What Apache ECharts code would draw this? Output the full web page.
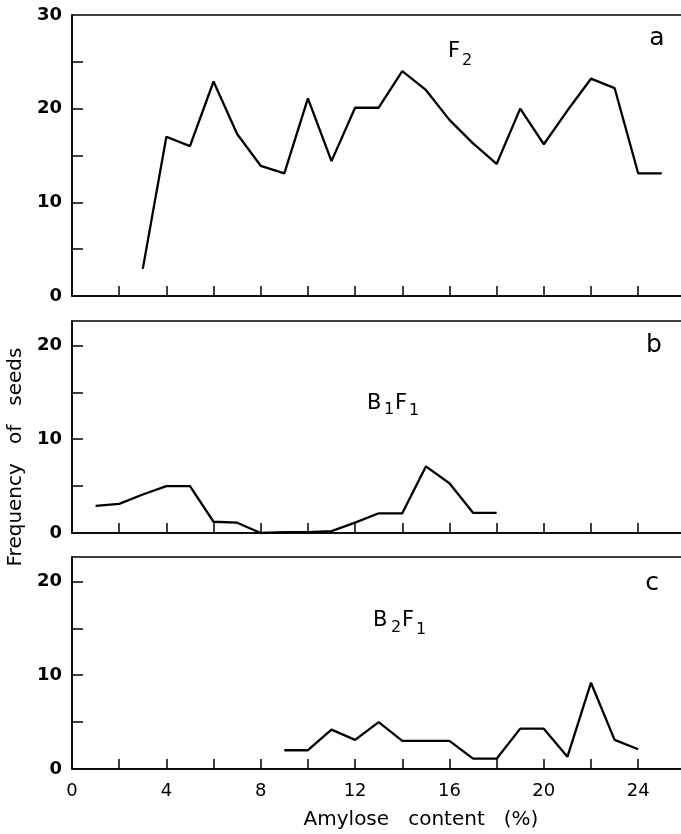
<!DOCTYPE html>
<html>
<head>
<meta charset="utf-8">
<script src="https://cdn.jsdelivr.net/npm/echarts@6/dist/echarts.min.js"></script>
<style>
  html, body { margin: 0; padding: 0; background: #fff; }
  #chart { width: 681px; height: 834px; }
</style>
</head>
<body>
<div id="chart"></div>
<script>
// amylose content (%) on x, frequency of seeds on y
var xF2 = [3, 4, 5, 6, 7, 8, 9, 10, 11, 12, 13, 14, 15, 16, 17, 18, 19, 20, 21, 22, 23, 24, 25];
var yF2 = [2.9, 17, 16, 22.9, 17.3, 13.9, 13.1, 21.1, 14.4, 20.1, 20.1, 24, 22, 18.8, 16.3, 14.1, 20, 16.2, 19.8, 23.2, 22.2, 13.1, 13.1];

var xB1F1 = [1, 2, 3, 4, 5, 6, 7, 8, 9, 10, 11, 12, 13, 14, 15, 16, 17, 18];
var yB1F1 = [2.9, 3.1, 4.1, 5, 5, 1.2, 1.1, 0, 0.1, 0.1, 0.2, 1.1, 2.1, 2.1, 7.1, 5.3, 2.15, 2.15];

var xB2F1 = [9, 10, 11, 12, 13, 14, 15, 16, 17, 18, 19, 20, 21, 22, 23, 24];
var yB2F1 = [2, 2, 4.2, 3.1, 5, 3, 3, 3, 1.1, 1.1, 4.3, 4.3, 1.3, 9.2, 3.1, 2.1];

var xTicks = [2, 4, 6, 8, 10, 12, 14, 16, 18, 20, 22, 24];
var xLabels = [0, 4, 8, 12, 16, 20, 24];
var yTicksA = [5, 10, 15, 20, 25];
var yLabelsA = [0, 10, 20, 30];
var yTicksBC = [5, 10, 15, 20];
var yLabelsBC = [0, 10, 20];

function pairs(xs, ys) {
  return xs.map(function (x, i) { return [x, ys[i]]; });
}

var font = 'DejaVu Sans';
var frame = { color: '#000', width: 1.5 };

var grids = [
  { top: 15, height: 281 },
  { top: 321, height: 212 },
  { top: 557, height: 212 }
].map(function (g) {
  return {
    left: 72, width: 611, top: g.top, height: g.height,
    show: true, borderColor: '#000', borderWidth: 1.5,
    containLabel: false, outerBoundsMode: 'none'
  };
});

var xAxes = [0, 1, 2].map(function (i) {
  return {
    type: 'value', gridIndex: i, min: 0, max: 25.9,
    axisLine: { show: true, onZero: false, lineStyle: frame },
    axisTick: { show: true, inside: true, length: 10, customValues: xTicks, lineStyle: frame },
    axisLabel: {
      show: i === 2, customValues: xLabels, margin: 13,
      color: '#000', fontFamily: font, fontSize: 18
    },
    splitLine: { show: false }
  };
});

var yAxes = [0, 1, 2].map(function (i) {
  return {
    type: 'value', gridIndex: i, min: 0, max: i === 0 ? 30 : 22.6,
    axisLine: { show: true, onZero: false, lineStyle: frame },
    axisTick: { show: true, inside: true, length: 11, customValues: i === 0 ? yTicksA : yTicksBC, lineStyle: frame },
    axisLabel: {
      customValues: i === 0 ? yLabelsA : yLabelsBC, margin: 10,
      color: '#000', fontFamily: font, fontSize: 18, fontWeight: 'bold'
    },
    splitLine: { show: false }
  };
});

function lineSeries(name, idx, data) {
  return {
    name: name, type: 'line', xAxisIndex: idx, yAxisIndex: idx,
    data: data, symbol: 'none', silent: true,
    lineStyle: { color: '#000', width: 2.3 }
  };
}

function txt(s, x, y, size, extra) {
  var style = { text: s, x: x, y: y, fill: '#000', font: size + 'px "' + font + '"' };
  if (extra) { for (var k in extra) style[k] = extra[k]; }
  return { type: 'text', style: style, silent: true };
}

var labels = [
  txt('a', 657, 38, 25, { align: 'center', verticalAlign: 'middle' }),
  txt('b', 654, 345, 25, { align: 'center', verticalAlign: 'middle' }),
  txt('c', 652, 583, 25, { align: 'center', verticalAlign: 'middle' }),
  // F2
  txt('F', 448, 41, 21),
  txt('2', 462, 53, 16),
  // B1F1
  txt('B', 367, 393, 21),
  txt('1', 384, 402, 16),
  txt('F', 395, 393, 21),
  txt('1', 409, 403, 16),
  // B2F1
  txt('B', 373, 610, 21),
  txt('2', 391, 620, 16),
  txt('F', 402, 610, 21),
  txt('1', 416, 622, 16),
  txt('Amylose   content   (%)', 421, 820, 20, { align: 'center', verticalAlign: 'middle' }),
  {
    type: 'text', x: 16, y: 457, rotation: Math.PI / 2, silent: true,
    style: {
      text: 'Frequency   of   seeds', fill: '#000', font: '20px "' + font + '"',
      align: 'center', verticalAlign: 'middle'
    }
  }
];

var chart = echarts.init(document.getElementById('chart'), null, { renderer: 'canvas' });
chart.setOption({
  animation: false,
  backgroundColor: '#fff',
  grid: grids,
  xAxis: xAxes,
  yAxis: yAxes,
  series: [
    lineSeries('F2', 0, pairs(xF2, yF2)),
    lineSeries('B1F1', 1, pairs(xB1F1, yB1F1)),
    lineSeries('B2F1', 2, pairs(xB2F1, yB2F1))
  ],
  graphic: labels
});
</script>
</body>
</html>
